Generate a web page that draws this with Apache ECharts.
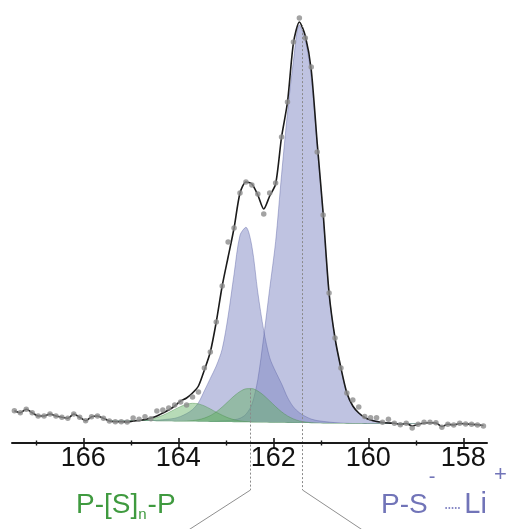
<!DOCTYPE html>
<html>
<head>
<meta charset="utf-8">
<script src="https://cdn.jsdelivr.net/npm/echarts@6/dist/echarts.min.js"></script>
<style>
html, body { margin: 0; padding: 0; background: #fff; }
#chart-container { width: 511px; height: 529px; }
</style>
</head>
<body>
<div id="chart-container"></div>
<script>
// binding energy (eV), one point per channel
const energies = [
    167.45, 167.325, 167.2, 167.075, 166.95, 166.825, 166.7, 166.575, 166.45, 166.325,
    166.2, 166.075, 165.95, 165.825, 165.7, 165.575, 165.45, 165.325, 165.2, 165.075,
    164.95, 164.825, 164.7, 164.575, 164.45, 164.325, 164.2, 164.075, 163.95, 163.825,
    163.7, 163.575, 163.45, 163.325, 163.2, 163.075, 162.95, 162.825, 162.7, 162.575,
    162.45, 162.325, 162.2, 162.075, 161.95, 161.825, 161.7, 161.575, 161.45, 161.325,
    161.2, 161.075, 160.95, 160.825, 160.7, 160.575, 160.45, 160.325, 160.2, 160.075,
    159.95, 159.825, 159.7, 159.575, 159.45, 159.325, 159.2, 159.075, 158.95, 158.825,
    158.7, 158.575, 158.45, 158.325, 158.2, 158.075, 157.95, 157.825, 157.7, 157.575
];

// measured intensity (a.u.)
const counts = [
    32.3, 30.3, 33.7, 30.3, 27, 27, 29, 27, 25.7, 24.7,
    29, 25.7, 22.3, 26.3, 27, 24.7, 22, 21.3, 21.3, 21,
    25, 23.7, 26.3, 24.3, 32, 33, 35, 38, 41, 38,
    46, 51, 75, 91, 121, 157, 201, 215, 250, 261,
    258, 249, 229, 250, 260, 306, 341, 401, 425, 405,
    376, 291, 228, 150, 105, 75, 50, 43, 36, 26.5,
    25.3, 25.3, 20.7, 23.7, 19.7, 18.3, 19.7, 15, 18.7, 20.7,
    20.7, 20.3, 15.7, 18.7, 18, 19.7, 19, 18.7, 18, 17
];

// fitted envelope
const envelope = [
    32.3, 30.3, 33.7, 30.3, 27, 27, 29, 27, 25.7, 24.7,
    29, 25.7, 22.3, 26.3, 27, 24.7, 22, 21.3, 21.3, 21,
    22, 22.5, 23.5, 25, 27, 30, 33, 37, 42, 45,
    50, 57, 73, 91, 121, 157, 186, 215, 250, 261,
    259, 248, 234, 247, 259, 306, 341, 400, 421, 407,
    373, 300, 230, 150, 105, 75, 50, 37, 30, 25.5,
    23, 21.5, 20.5, 20, 19.7, 18.5, 19.5, 17, 18.7, 20,
    20.3, 20, 16.5, 18.7, 18, 19.5, 19, 18.7, 18.3, 17.5
];

// fit window = energies[16] .. energies[68]
const fitFrom = 16;
const fitTo = 69;

const background = [
    22, 22, 22, 22, 22, 22, 22, 21.9, 21.8, 21.8,
    21.7, 21.6, 21.5, 21.4, 21.4, 21.3, 21.2, 21.1, 21, 21,
    20.9, 20.8, 20.7, 20.7, 20.6, 20.5, 20.4, 20.3, 20.3, 20.2,
    20.1, 20, 19.9, 19.9, 19.8, 19.7, 19.6, 19.6, 19.5, 19.4,
    19.3, 19.2, 19.2, 19.1, 19, 19, 19, 19, 19, 19,
    19, 19, 19
];

// P-S- ... Li+ (161.4 eV)
const psLi = [
    0, 0, 0, 0, 0, 0, 0, 0, 0, 0,
    0, 0, 0, 0, 0, 0.1, 0.2, 0.4, 0.8, 1.2,
    1.6, 2.4, 4, 8, 18, 43, 86, 134, 181, 248,
    310, 362, 398, 383, 346, 279, 208, 130, 85, 55,
    30, 17.7, 11, 7, 4.7, 3.1, 2, 1.2, 0.8, 0.5,
    0.3, 0.2, 0.1
];

// second P-S component (162.6 eV)
const psLi2 = [
    0, 0, 0, 0, 0.2, 0.3, 0.5, 0.7, 1, 1.5,
    2.2, 3.1, 5.1, 8, 12, 19, 31, 43.5, 56, 73,
    106, 148, 187, 195, 176, 130, 92, 65, 51, 39,
    25.5, 16, 10.4, 6.7, 4.1, 2.7, 2, 1.3, 0.9, 0.6,
    0.4, 0.3, 0.2, 0.1, 0, 0, 0, 0, 0, 0,
    0, 0, 0
];

// P-[S]n-P (162.5 eV)
const psp = [
    0, 0, 0, 0, 0, 0, 0, 0, 0, 0,
    0, 0, 0.2, 0.5, 1, 2, 3.7, 6.3, 10.1, 15,
    20.6, 26.2, 30.8, 33.5, 33.8, 31.5, 27.2, 21.8, 16.1, 11,
    7, 4.1, 2.2, 1.1, 0.5, 0.2, 0, 0, 0, 0,
    0, 0, 0, 0, 0, 0, 0, 0, 0, 0,
    0, 0, 0
];

// P-[S]n-P (163.7 eV)
const psp2 = [
    0, 0, 0, 0.1, 0.2, 0.5, 1.1, 2.1, 3.7, 5.9,
    8.8, 12, 15, 17.3, 18.3, 17.8, 15.9, 13, 9.8, 6.8,
    4.3, 2.5, 1.4, 0.7, 0.3, 0.1, 0, 0, 0, 0,
    0, 0, 0, 0, 0, 0, 0, 0, 0, 0,
    0, 0, 0, 0, 0, 0, 0, 0, 0, 0,
    0, 0, 0
];

const majorTicks = [166, 164, 162, 160, 158];
const minorTicks = [167, 165, 163, 161, 159];
const markerPositions = [162.5, 161.4];

const fitEnergies = energies.slice(fitFrom, fitTo);
const pair = (xs, ys) => ys.map((y, i) => [xs[i], y]);
const onBackground = (values) => values.map((v, i) => v + background[i]);
// white mask under the fit background (envelope outside the fit window)
const maskLine = energies.map((e, i) =>
    [e, i >= fitFrom && i < fitTo ? background[i - fitFrom] : Math.min(envelope[i], background[i < fitFrom ? 0 : background.length - 1])]);

const blueFill = 'rgba(128,136,196,0.5)';
const blueEdge = 'rgba(95,100,165,0.55)';
const greenFill = 'rgba(95,175,95,0.45)';
const greenEdge = 'rgba(70,140,70,0.5)';
const labelFont = "'Liberation Sans', Arial, sans-serif";
const axisFont = "'Liberation Sans Narrow', 'Liberation Sans', Arial, sans-serif";
const ink = '#1a1a1a';

function component(name, values, fill, edge, z) {
    return {
        name: name, type: 'line', silent: true, z: z,
        data: pair(fitEnergies, onBackground(values)), symbol: 'none', smooth: 0.3,
        lineStyle: { color: edge, width: 0.8 },
        areaStyle: { color: fill, opacity: 1, origin: 'start' }
    };
}

const xBase = { type: 'value', position: 'bottom', min: 157.5, max: 167.5, inverse: true, splitLine: { show: false }, z: 10 };

const option = {
    animation: false,
    grid: { left: 12, right: 24, top: 3, bottom: 86 },
    xAxis: [
        Object.assign({}, xBase, {
            axisLine: { lineStyle: { color: ink, width: 2 } },
            axisTick: { customValues: majorTicks, length: 5, lineStyle: { color: ink, width: 1.6 } },
            axisLabel: { customValues: majorTicks, fontSize: 27, fontFamily: axisFont, color: '#111', margin: 2 }
        }),
        Object.assign({}, xBase, {
            axisLine: { show: false },
            axisTick: { customValues: majorTicks, inside: true, length: 5, lineStyle: { color: ink, width: 1.6 } },
            axisLabel: { show: false }
        }),
        Object.assign({}, xBase, {
            offset: -2.5,
            axisLine: { show: false },
            axisTick: { customValues: minorTicks, length: 5, lineStyle: { color: ink, width: 1.4 } },
            axisLabel: { show: false }
        })
    ],
    yAxis: { type: 'value', min: 0, max: 440, show: false },
    series: [
        component('psLi2', psLi2, blueFill, blueEdge, 1),
        component('psLi', psLi, blueFill, blueEdge, 1),
        component('psp2', psp2, greenFill, greenEdge, 2),
        component('psp', psp, greenFill, greenEdge, 2),
        {
            name: 'mask', type: 'line', silent: true, z: 3,
            data: maskLine, symbol: 'none', smooth: 0.3,
            lineStyle: { width: 0 },
            areaStyle: { color: '#ffffff', opacity: 1, origin: 'start' }
        },
        {
            name: 'envelope', type: 'line', z: 4, silent: true,
            data: pair(energies, envelope), symbol: 'none', smooth: 0.25,
            lineStyle: { color: '#1b1b1b', width: 1.6 }
        },
        {
            name: 'counts', type: 'scatter', z: 5, silent: true, clip: false,
            data: pair(energies, counts), symbolSize: 5.5,
            itemStyle: { color: '#8c8c8c' }
        }
    ]
};

const chart = echarts.init(document.getElementById('chart-container'));
chart.setOption(option);

// annotation: dotted markers + leader lines + labels
const toPx = (x, y) => chart.convertToPixel({ xAxisIndex: 0, yAxisIndex: 0 }, [x, y]);
const axisY = toPx(165, 0)[1];
const apex = (values) => Math.max.apply(null, onBackground(values));
const tops = [apex(psp), apex(psLi)];

const ctx = document.createElement('canvas').getContext('2d');
const textW = (s, size) => { ctx.font = size + 'px ' + labelFont; return ctx.measureText(s).width; };

const green = '#3f9a3f';
const blue = '#7174b8';
const elements = [];

markerPositions.forEach((e, i) => {
    const x = Math.round(toPx(e, 0)[0]) + 0.5;
    const top = toPx(e, tops[i])[1];
    const knee = axisY + 47;
    elements.push({
        type: 'line', z: 10, silent: true,
        shape: { x1: x, y1: top, x2: x, y2: knee },
        style: { stroke: '#8a8a8a', lineWidth: 1, lineDash: [2, 2] }
    });
    elements.push({
        type: 'line', z: 10, silent: true,
        shape: { x1: x, y1: knee, x2: x + (i === 0 ? -62 : 60), y2: 530 },
        style: { stroke: '#8f8f8f', lineWidth: 1 }
    });
});

function addText(text, x, y, size, color) {
    elements.push({
        type: 'text', z: 10, silent: true, x: x, y: y,
        style: { text: text, fontSize: size, fontFamily: labelFont, fill: color, align: 'left', verticalAlign: 'middle' }
    });
    return x + textW(text, size);
}

// P-[S]n-P
let cx = addText('P-[S]', 76, 505, 28, green);
cx = addText('n', cx, 515, 15, green);
addText('-P', cx + 1, 505, 28, green);

// P-S- ..... Li+
cx = addText('P-S', 381, 505, 28, blue);
cx = addText('-', cx + 1, 477, 20, blue);
elements.push({
    type: 'line', z: 10, silent: true,
    shape: { x1: cx + 10, y1: 508, x2: cx + 26, y2: 508 },
    style: { stroke: '#8789c6', lineWidth: 1.8, lineDash: [1.6, 1.6] }
});
cx = addText('Li', cx + 29, 505, 29, blue);
addText('+', cx + 7, 475, 22, blue);

chart.setOption({ graphic: { elements: elements } });
</script>
</body>
</html>
